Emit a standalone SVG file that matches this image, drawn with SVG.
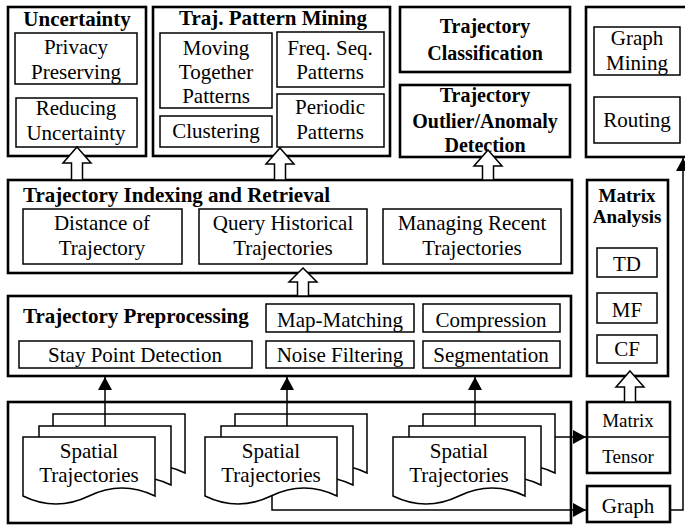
<svg xmlns="http://www.w3.org/2000/svg" width="685" height="525" viewBox="0 0 685 525">
<defs>
<style>
.ob{fill:none;stroke:#000;stroke-width:2.6}
.ib{fill:#fff;stroke:#000;stroke-width:1.5}
.pg{fill:#fff;stroke:#000;stroke-width:1.5}
.ha{fill:#fff;stroke:#000;stroke-width:1.5}
.c{fill:none;stroke:#000;stroke-width:1.5}
text{font-family:"Liberation Serif","Times New Roman",serif;font-size:21px;text-anchor:middle;fill:#000}
.b{font-weight:bold}
.s{font-size:19px}
.m{font-size:20px}
.l{text-anchor:start}
</style>
<marker id="ah" markerWidth="14" markerHeight="14" refX="13" refY="7" orient="auto" markerUnits="userSpaceOnUse"><path d="M0,0 L13,7 L0,14 Z" fill="#000"/></marker>
</defs>
<rect width="685" height="525" fill="#fff"/>

<g id="uncertainty">
<rect class="ob" x="8" y="7" width="138" height="149"/>
<text class="b" x="77" y="26">Uncertainty</text>
<rect class="ib" x="15" y="33" width="122" height="51"/>
<text x="76" y="54">Privacy</text><text x="76" y="79">Preserving</text>
<rect class="ib" x="16" y="98" width="121" height="49"/>
<text x="76" y="115">Reducing</text><text x="76" y="140">Uncertainty</text>
</g>

<g id="pattern-mining">
<rect class="ob" x="153" y="7" width="237" height="149"/>
<text class="b" x="273" y="25">Traj. Pattern Mining</text>
<rect class="ib" x="160" y="33" width="112" height="75"/>
<text x="216" y="55">Moving</text><text x="216" y="79">Together</text><text x="216" y="103">Patterns</text>
<rect class="ib" x="160" y="116" width="112" height="31"/>
<text x="216" y="138">Clustering</text>
<rect class="ib" x="277" y="32" width="107" height="55"/>
<text x="330" y="55">Freq. Seq.</text><text x="330" y="79">Patterns</text>
<rect class="ib" x="277" y="94" width="107" height="53"/>
<text x="330" y="114">Periodic</text><text x="330" y="139">Patterns</text>
</g>

<g id="classification">
<rect class="ob" x="400" y="7" width="170" height="65"/>
<text class="b m" x="485" y="33">Trajectory</text><text class="b m" x="485" y="60">Classification</text>
</g>

<g id="outlier">
<rect class="ob" x="400" y="85" width="170" height="72"/>
<text class="b m" x="485" y="102">Trajectory</text><text class="b m" x="485" y="128">Outlier/Anomaly</text><text class="b m" x="485" y="152">Detection</text>
</g>

<g id="graph-apps">
<rect class="ob" x="586" y="7" width="110" height="150"/>
<rect class="ib" x="594" y="27" width="86" height="48"/>
<text x="637" y="45">Graph</text><text x="637" y="70">Mining</text>
<rect class="ib" x="594" y="97" width="86" height="46"/>
<text x="637" y="127">Routing</text>
</g>

<g id="indexing">
<rect class="ob" x="8" y="180" width="564" height="93"/>
<text class="b l" x="23" y="202">Trajectory Indexing and Retrieval</text>
<rect class="ib" x="23" y="209" width="159" height="55"/>
<text x="102" y="230">Distance of</text><text x="102" y="255">Trajectory</text>
<rect class="ib" x="199" y="209" width="168" height="55"/>
<text x="283" y="230">Query Historical</text><text x="283" y="255">Trajectories</text>
<rect class="ib" x="383" y="209" width="178" height="55"/>
<text x="472" y="230">Managing Recent</text><text x="472" y="255">Trajectories</text>
</g>

<g id="matrix-analysis">
<rect class="ob" x="587" y="180" width="81" height="196"/>
<text class="b s" x="627" y="202">Matrix</text><text class="b s" x="627" y="223">Analysis</text>
<rect class="ib" x="597" y="248" width="60" height="29"/>
<text x="627" y="271">TD</text>
<rect class="ib" x="597" y="293" width="60" height="30"/>
<text x="627" y="317">MF</text>
<rect class="ib" x="597" y="335" width="60" height="28"/>
<text x="627" y="356">CF</text>
</g>

<g id="preprocessing">
<rect class="ob" x="8" y="296" width="563" height="80"/>
<text class="b l" x="23" y="323">Trajectory Preprocessing</text>
<rect class="ib" x="266" y="304" width="148" height="28"/>
<text x="340" y="327">Map-Matching</text>
<rect class="ib" x="423" y="304" width="137" height="28"/>
<text x="491" y="327">Compression</text>
<rect class="ib" x="19" y="341" width="233" height="27"/>
<text x="135" y="362">Stay Point Detection</text>
<rect class="ib" x="266" y="341" width="148" height="27"/>
<text x="340" y="362">Noise Filtering</text>
<rect class="ib" x="423" y="341" width="137" height="27"/>
<text x="491" y="362">Segmentation</text>
</g>

<g id="data">
<rect class="ob" x="8" y="402" width="563" height="121"/>
<g id="stack1">
<path class="pg" d="M53,414 H185 V473 Q152,457 119,473 T53,473 Z"/>
<path class="pg" d="M39,426 H171 V485 Q138,469 105,485 T39,485 Z"/>
<path class="pg" d="M23,437 H155 V496 Q122,480 89,496 T23,496 Z"/>
<text x="89" y="458">Spatial</text><text x="89" y="482">Trajectories</text>
</g>
<g id="stack2">
<path class="pg" d="M235,414 H367 V473 Q334,457 301,473 T235,473 Z"/>
<path class="pg" d="M221,426 H353 V485 Q320,469 287,485 T221,485 Z"/>
<path class="pg" d="M205,437 H337 V496 Q304,480 271,496 T205,496 Z"/>
<text x="271" y="458">Spatial</text><text x="271" y="482">Trajectories</text>
</g>
<g id="stack3">
<path class="pg" d="M423,414 H555 V473 Q522,457 489,473 T423,473 Z"/>
<path class="pg" d="M409,426 H541 V485 Q508,469 475,485 T409,485 Z"/>
<path class="pg" d="M393,437 H525 V496 Q492,480 459,496 T393,496 Z"/>
<text x="459" y="458">Spatial</text><text x="459" y="482">Trajectories</text>
</g>
</g>

<g id="matrix-tensor">
<rect class="ob" x="587" y="402" width="83" height="71"/>
<line class="c" x1="587" y1="437" x2="670" y2="437"/>
<text class="s" x="628" y="427">Matrix</text><text class="s" x="628" y="463">Tensor</text>
</g>

<g id="graph">
<rect class="ob" x="587" y="486" width="83" height="36"/>
<text x="628" y="513">Graph</text>
</g>

<g id="connectors">
<path class="ha" d="M77,147 L91,163 L82.5,163 L82.5,180 L71.5,180 L71.5,163 L63,163 Z"/>
<path class="ha" d="M280,148 L294,164 L285.5,164 L285.5,180 L274.5,180 L274.5,164 L266,164 Z"/>
<path class="ha" d="M488,150 L502,166 L493.5,166 L493.5,180 L482.5,180 L482.5,166 L474,166 Z"/>
<path class="ha" d="M303,268 L317,282 L308.5,282 L308.5,296 L297.5,296 L297.5,282 L289,282 Z"/>
<path class="ha" d="M630,371 L644,387 L635.5,387 L635.5,402 L624.5,402 L624.5,387 L616,387 Z"/>
<path class="c" d="M105,426 V377" marker-end="url(#ah)"/>
<path class="c" d="M287,426 V377" marker-end="url(#ah)"/>
<path class="c" d="M475,426 V377" marker-end="url(#ah)"/>
<path class="c" d="M555,437 H586" marker-end="url(#ah)"/>
<path class="c" d="M272,496 V510 H586" marker-end="url(#ah)"/>
<path class="c" d="M670,510 H683 V158" marker-end="url(#ah)"/>
</g>
</svg>
